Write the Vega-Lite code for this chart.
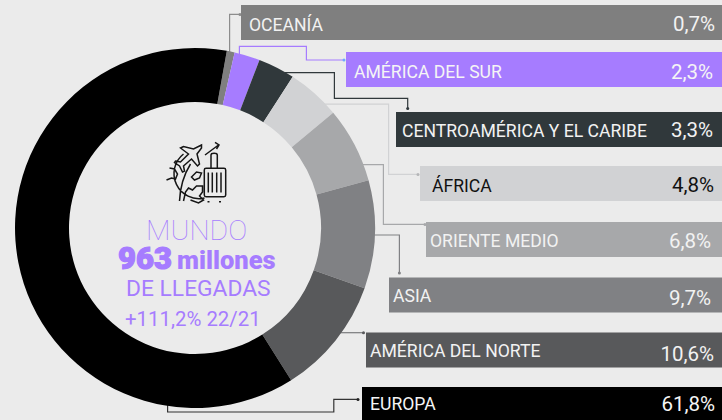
{
"$schema":"https://vega.github.io/schema/vega-lite/v6.json",
"width":722,"height":420,"padding":0,"autosize":{"type":"none"},
"background":"#ebebeb",
"config":{"view":{"stroke":null}},
"datasets":{
"regiones":[
{"orden":1,"region":"OCEANÍA","pct":0.7,"valor":"0,7%"},
{"orden":2,"region":"AMÉRICA DEL SUR","pct":2.3,"valor":"2,3%"},
{"orden":3,"region":"CENTROAMÉRICA Y EL CARIBE","pct":3.3,"valor":"3,3%"},
{"orden":4,"region":"ÁFRICA","pct":4.8,"valor":"4,8%"},
{"orden":5,"region":"ORIENTE MEDIO","pct":6.8,"valor":"6,8%"},
{"orden":6,"region":"ASIA","pct":9.7,"valor":"9,7%"},
{"orden":7,"region":"AMÉRICA DEL NORTE","pct":10.6,"valor":"10,6%"},
{"orden":8,"region":"EUROPA","pct":61.8,"valor":"61,8%"}],
"guias":[
{"orden":1,"paso":1,"x":229.6,"y":54,"fin":false},{"orden":1,"paso":2,"x":229.6,"y":14.4,"fin":false},{"orden":1,"paso":3,"x":240,"y":14.4,"fin":true},
{"orden":2,"paso":1,"x":239.4,"y":56,"fin":false},{"orden":2,"paso":2,"x":239.4,"y":46.4,"fin":false},{"orden":2,"paso":3,"x":306.4,"y":46.4,"fin":false},{"orden":2,"paso":4,"x":306.4,"y":60,"fin":false},{"orden":2,"paso":5,"x":344,"y":60,"fin":true},
{"orden":3,"paso":1,"x":285,"y":72.7,"fin":false},{"orden":3,"paso":2,"x":334.4,"y":72.7,"fin":false},{"orden":3,"paso":3,"x":334.4,"y":98.4,"fin":false},{"orden":3,"paso":4,"x":407.7,"y":98.4,"fin":false},{"orden":3,"paso":5,"x":407.7,"y":108.4,"fin":true},
{"orden":4,"paso":1,"x":322,"y":104.2,"fin":false},{"orden":4,"paso":2,"x":388.6,"y":104.2,"fin":false},{"orden":4,"paso":3,"x":388.6,"y":174.4,"fin":false},{"orden":4,"paso":4,"x":418,"y":174.4,"fin":true},
{"orden":5,"paso":1,"x":360,"y":164.6,"fin":false},{"orden":5,"paso":2,"x":383.4,"y":164.6,"fin":false},{"orden":5,"paso":3,"x":383.4,"y":224.4,"fin":false},{"orden":5,"paso":4,"x":425,"y":224.4,"fin":true},
{"orden":6,"paso":1,"x":372,"y":235,"fin":false},{"orden":6,"paso":2,"x":399.4,"y":235,"fin":false},{"orden":6,"paso":3,"x":399.4,"y":273,"fin":true},
{"orden":7,"paso":1,"x":340,"y":332.7,"fin":false},{"orden":7,"paso":2,"x":363.5,"y":332.7,"fin":true},
{"orden":8,"paso":1,"x":167.6,"y":405,"fin":false},{"orden":8,"paso":2,"x":167.6,"y":412,"fin":false},{"orden":8,"paso":3,"x":333.8,"y":412,"fin":false},{"orden":8,"paso":4,"x":333.8,"y":399.4,"fin":false},{"orden":8,"paso":5,"x":358,"y":399.4,"fin":true}],
"centro":[{"orden":1,"texto":"MUNDO"},{"orden":2,"texto":"963"},{"orden":3,"texto":"millones"},{"orden":4,"texto":"DE LLEGADAS"},{"orden":5,"texto":"+111,2% 22/21"}]
},
"resolve":{"scale":{"x":"independent","y":"independent","color":"independent","theta":"independent"}},
"layer":[
{"data":{"name":"guias"},"mark":{"type":"line","strokeWidth":1.2,"interpolate":"linear"},
"encoding":{
"x":{"field":"x","type":"quantitative","axis":null,"scale":{"domain":[0,722],"range":[0,722],"nice":false,"zero":false}},
"y":{"field":"y","type":"quantitative","axis":null,"scale":{"domain":[0,420],"range":[0,420],"nice":false,"zero":false}},
"order":{"field":"paso","type":"quantitative"},
"detail":{"field":"orden"},
"color":{"field":"orden","type":"nominal","legend":null,"scale":{"domain":[1,2,3,4,5,6,7,8],"range":["#8c8c8c","#a67cff","#30383b","#d1d2d4","#a7a8aa","#808184","#7a7b7d","#333333"]}}}},
{"data":{"name":"guias"},"transform":[{"filter":"datum.fin"}],"mark":{"type":"point","filled":true,"size":9,"opacity":1},
"encoding":{
"x":{"field":"x","type":"quantitative","axis":null,"scale":{"domain":[0,722],"range":[0,722],"nice":false,"zero":false}},
"y":{"field":"y","type":"quantitative","axis":null,"scale":{"domain":[0,420],"range":[0,420],"nice":false,"zero":false}},
"color":{"field":"orden","type":"nominal","legend":null,"scale":{"domain":[1,2,3,4,5,6,7,8],"range":["#8c8c8c","#6fa8ff","#30383b","#b5b6b8","#a7a8aa","#808184","#58595b","#222222"]}}}},
{"data":{"name":"regiones"},"mark":{"type":"arc","radius":180,"radius2":126},
"encoding":{
"x":{"datum":0.5,"type":"quantitative","axis":null,"scale":{"domain":[0,1],"range":[0,390],"nice":false,"zero":false}},
"y":{"datum":0.5,"type":"quantitative","axis":null,"scale":{"domain":[0,1],"range":[0,456],"nice":false,"zero":false}},
"theta":{"field":"pct","type":"quantitative","stack":true,"scale":{"domain":[0,100],"range":[0.178,6.461]}},
"order":{"field":"orden","type":"quantitative"},
"color":{"field":"orden","type":"nominal","legend":null,"scale":{"domain":[1,2,3,4,5,6,7,8],"range":["#7f7f7f","#a67cff","#30383b","#d1d2d4","#a7a8aa","#808184","#58595b","#000000"]}}}},
{"data":{"name":"regiones"},"mark":{"type":"rule","strokeWidth":35},
"encoding":{
"x":{"field":"orden","type":"quantitative","axis":null,"scale":{"domain":[1,2,3,4,5,6,7,8],"range":[241,346,396,420,426,389,366,362],"nice":false,"zero":false}},
"x2":{"value":722},
"y":{"field":"orden","type":"quantitative","axis":null,"scale":{"domain":[1,2,3,4,5,6,7,8],"range":[22.5,69.5,129.5,183.5,239.5,295,350,404.5],"nice":false,"zero":false}},
"color":{"field":"orden","type":"nominal","legend":null,"scale":{"domain":[1,2,3,4,5,6,7,8],"range":["#7f7f7f","#a67cff","#30383b","#d1d2d4","#a7a8aa","#808184","#58595b","#000000"]}}}},
{"data":{"name":"regiones"},"mark":{"type":"text","align":"left","baseline":"alphabetic","font":"Roboto","fontSize":17.6,"fontWeight":400},
"encoding":{
"text":{"field":"region"},
"x":{"field":"orden","type":"quantitative","axis":null,"scale":{"domain":[1,2,3,4,5,6,7,8],"range":[249,354,402,432,430,393,370,370],"nice":false,"zero":false}},
"y":{"field":"orden","type":"quantitative","axis":null,"scale":{"domain":[1,2,3,4,5,6,7,8],"range":[31,78,136.5,191.5,247,302,356.5,410],"nice":false,"zero":false}},
"color":{"field":"orden","type":"nominal","legend":null,"scale":{"domain":[1,2,3,4,5,6,7,8],"range":["#f2f2f2","#f5f5f5","#f2f2f2","#111111","#f2f2f2","#f2f2f2","#f2f2f2","#f5f5f5"]}}}},
{"data":{"name":"regiones"},"mark":{"type":"text","align":"right","baseline":"alphabetic","font":"Roboto","fontSize":20.5},
"encoding":{
"text":{"field":"valor"},
"x":{"field":"orden","type":"quantitative","axis":null,"scale":{"domain":[1,2,3,4,5,6,7,8],"range":[715,713,713,714,711,711,714,715],"nice":false,"zero":false}},
"y":{"field":"orden","type":"quantitative","axis":null,"scale":{"domain":[1,2,3,4,5,6,7,8],"range":[31,79,137,192,248,305,361,411],"nice":false,"zero":false}},
"color":{"field":"orden","type":"nominal","legend":null,"scale":{"domain":[1,2,3,4,5,6,7,8],"range":["#f2f2f2","#f5f5f5","#f2f2f2","#111111","#f2f2f2","#f2f2f2","#f2f2f2","#f5f5f5"]}}}},
{"data":{"name":"centro"},"transform":[{"filter":"datum.orden==1"}],"mark":{"type":"text","align":"left","baseline":"alphabetic","font":"Roboto","fontWeight":100,"fontSize":28.5,"color":"#a67cff"},
"encoding":{"text":{"field":"texto"},
"x":{"field":"orden","type":"quantitative","axis":null,"scale":{"domain":[1,2,3,4,5],"range":[146,118,177,126,125],"nice":false,"zero":false}},
"y":{"field":"orden","type":"quantitative","axis":null,"scale":{"domain":[1,2,3,4,5],"range":[240,269,269,296,326],"nice":false,"zero":false}}}},
{"data":{"name":"centro"},"transform":[{"filter":"datum.orden==2"}],"mark":{"type":"text","align":"left","baseline":"alphabetic","font":"Roboto","fontWeight":900,"fontSize":31,"color":"#a67cff","stroke":"#a67cff","strokeWidth":1.2},
"encoding":{"text":{"field":"texto"},
"x":{"field":"orden","type":"quantitative","axis":null,"scale":{"domain":[1,2,3,4,5],"range":[146,118,177,126,125],"nice":false,"zero":false}},
"y":{"field":"orden","type":"quantitative","axis":null,"scale":{"domain":[1,2,3,4,5],"range":[240,269,269,296,326],"nice":false,"zero":false}}}},
{"data":{"name":"centro"},"transform":[{"filter":"datum.orden==3"}],"mark":{"type":"text","align":"left","baseline":"alphabetic","font":"Roboto","fontWeight":900,"fontSize":25.5,"color":"#a67cff"},
"encoding":{"text":{"field":"texto"},
"x":{"field":"orden","type":"quantitative","axis":null,"scale":{"domain":[1,2,3,4,5],"range":[146,118,177,126,125],"nice":false,"zero":false}},
"y":{"field":"orden","type":"quantitative","axis":null,"scale":{"domain":[1,2,3,4,5],"range":[240,269,269,296,326],"nice":false,"zero":false}}}},
{"data":{"name":"centro"},"transform":[{"filter":"datum.orden==4"}],"mark":{"type":"text","align":"left","baseline":"alphabetic","font":"Roboto","fontSize":22.8,"color":"#a67cff"},
"encoding":{"text":{"field":"texto"},
"x":{"field":"orden","type":"quantitative","axis":null,"scale":{"domain":[1,2,3,4,5],"range":[146,118,177,126,125],"nice":false,"zero":false}},
"y":{"field":"orden","type":"quantitative","axis":null,"scale":{"domain":[1,2,3,4,5],"range":[240,269,269,296,326],"nice":false,"zero":false}}}},
{"data":{"name":"centro"},"transform":[{"filter":"datum.orden==5"}],"mark":{"type":"text","align":"left","baseline":"alphabetic","font":"Roboto","fontSize":20.4,"color":"#a67cff"},
"encoding":{"text":{"field":"texto"},
"x":{"field":"orden","type":"quantitative","axis":null,"scale":{"domain":[1,2,3,4,5],"range":[146,118,177,126,125],"nice":false,"zero":false}},
"y":{"field":"orden","type":"quantitative","axis":null,"scale":{"domain":[1,2,3,4,5],"range":[240,269,269,296,326],"nice":false,"zero":false}}}},
{"data":{"name":"centro"},"transform":[{"filter":"datum.orden==1"}],"mark":{"type":"point","size":4,"filled":false,"opacity":1,"stroke":"#161616","strokeWidth":1.5,
"shape":"M-11 -18A25 25 0 0 0 10 26M-4 -8Q-14 8 -15 29M7 -27L-1 -23L-11 -25.5L-14 -24L-6 -18L-14 -10L-19 -11L-20 -9.5L-15 -6L-12 0L-10 -1L-11 -6L-3 -13L3 -6L5 -8L2.5 -18L7 -24ZM10.5 -17L24 -27M20.5 -29.7L24.5 -27L22 -23M11.5 -3.7L29.5 -3.7Q31.2 -3.7 31.2 -2L31.2 23Q31.2 24.7 29.5 24.7L11.5 24.7Q9.8 24.7 9.8 23L9.8 -2Q9.8 -3.7 11.5 -3.7ZM16.5 -3.7L16.5 -17Q16.5 -18.7 19.6 -18.7Q22.8 -18.7 22.8 -17L22.8 -3.7M13.8 0.5L13.8 20.5M17.8 0.5L17.8 20.5M22.2 0.5L22.2 20.5M26.5 0.5L26.5 20.5M13 29.7L15 29.7M24.5 29.7L26.5 29.7M-25 -4L-20 -3L-17 2L-19 7L-23 6L-28 8M-3 5L2 0L7 1L5 6L0 8ZM-11 29L-9 20L-6 16L-2 18L2 14L8 14L8 20L5 24L9 28L4 31L-4 28"},
"encoding":{
"x":{"field":"orden","type":"quantitative","axis":null,"scale":{"domain":[0,1],"range":[0,194.5],"nice":false,"zero":false}},
"y":{"field":"orden","type":"quantitative","axis":null,"scale":{"domain":[0,1],"range":[0,172],"nice":false,"zero":false}}}}
]
}
